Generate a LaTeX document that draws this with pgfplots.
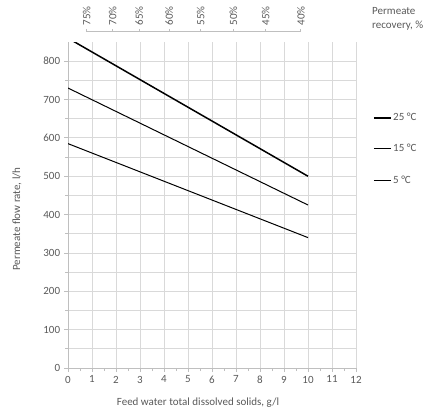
\documentclass[border=0pt]{standalone}
\usepackage{pgfplots}
\pgfplotsset{compat=1.18}
\usepackage{fontspec}
\setmainfont{Carlito}
\definecolor{txt}{HTML}{595959}
\definecolor{gridc}{HTML}{D9D9D9}
\definecolor{axc}{HTML}{BFBFBF}
\begin{document}
\fontsize{11}{13}\selectfont
\begin{tikzpicture}[x=1pt,y=1pt]
\path[use as bounding box] (0,0) rectangle (444,413);
\begin{axis}[
    at={(68pt,45pt)}, anchor=south west,
    scale only axis, width=288pt, height=326pt,
    xmin=0, xmax=12, ymin=0, ymax=850,
    xtick={0,1,...,12}, minor x tick num=1,
    ytick={0,100,...,800}, minor y tick num=1,
    axis x line*=bottom, axis y line*=left,
    axis line style={draw=axc, line width=0.8pt, -},
    grid=both,
    major grid style={draw=gridc, line width=0.8pt},
    minor grid style={draw=gridc, line width=0.8pt},
    minor x grid style={draw=none},
    tick align=outside, tick style={draw=axc, line width=0.8pt},
    major tick length=4pt, minor tick length=3pt,
    ticklabel style={text=txt, font=\fontsize{11}{13}\selectfont},
    /pgf/number format/assume math mode=true,
    clip=true,
    legend style={at={(1.059,0.672)}, anchor=west, draw=none, fill=none,
        row sep=19pt, font=\fontsize{11}{13}\selectfont, text=txt,
        inner sep=0pt, nodes={inner sep=1.5pt}},
    legend cell align=left,
    legend image code/.code={\draw[#1] (0pt,0pt) -- (17pt,0pt);},
]
\addplot[black, line width=1.5pt] coordinates {(0,860) (10,500)};
\addlegendentry{25 °C}
\addplot[black, line width=1pt] coordinates {(0,730) (10,425)};
\addlegendentry{15 °C}
\addplot[black, line width=1pt] coordinates {(0,585) (10,340)};
\addlegendentry{5 °C}
\end{axis}
\begin{axis}[
    at={(68pt,381.3pt)}, anchor=north west,
    scale only axis, width=288pt, height=10pt,
    xmin=0, xmax=12, ymin=-1, ymax=0,
    hide y axis, axis x line*=top,
    axis line style={draw=none},
    xtick={0.78,1.86,2.97,4.22,5.53,6.89,8.24,9.70},
    xticklabels={75\%,70\%,65\%,60\%,55\%,50\%,45\%,40\%},
    xtick pos=upper, tick align=outside,
    tick style={draw=axc, line width=0.8pt}, major tick length=2.5pt,
    xticklabel style={rotate=90, anchor=west, text=txt, xshift=0pt,
        font=\fontsize{11}{13}\selectfont},
    clip=false,
]
\addplot[axc, line width=0.8pt] coordinates {(0.78,0) (9.70,0)};
\end{axis}
\node[text=txt, anchor=north west, align=left, inner sep=0pt] at (372,406)
    {Permeate\\[1pt]recovery, \%};
\node[text=txt, rotate=90] at (17,194) {Permeate flow rate, l/h};
\node[text=txt] at (198,10.3) {Feed water total dissolved solids, g/l};
\end{tikzpicture}
\end{document}
